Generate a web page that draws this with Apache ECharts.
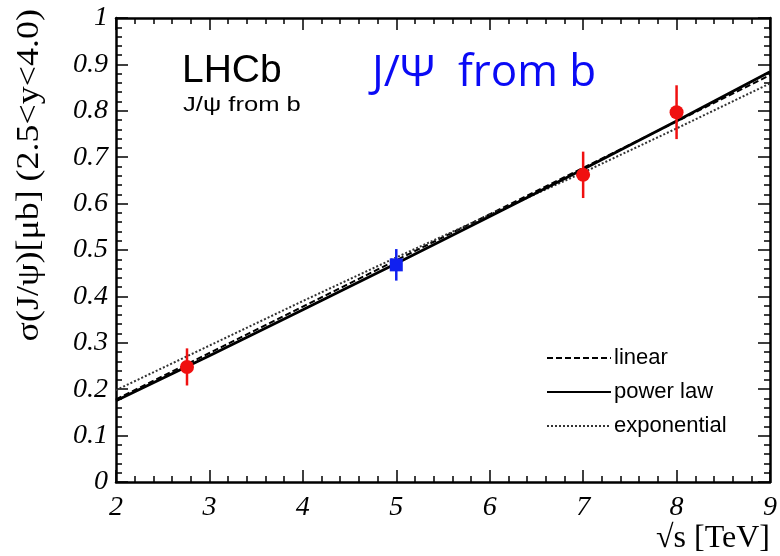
<!DOCTYPE html>
<html>
<head>
<meta charset="utf-8">
<script src="https://cdn.jsdelivr.net/npm/echarts@6/dist/echarts.min.js"></script>
<style>
  html, body { margin: 0; padding: 0; background: #fff; }
  #chart { width: 780px; height: 556px; }
</style>
</head>
<body>
<div id="chart"></div>
<script>
// Centre-of-mass energies (TeV) and measured cross-sections (μb) with uncertainties
const ppEnergies = [2.76, 7.0, 8.0];
const ppSigma = [0.248, 0.662, 0.797];
const ppError = [0.040, 0.050, 0.058];

const interpEnergy = [5.0];
const interpSigma = [0.468];
const interpError = [0.034];

// Fit curves sampled at integer energies
const fitEnergies = [2, 3, 4, 5, 6, 7, 8, 9];
const linearFit = [0.178, 0.278, 0.378, 0.478, 0.577, 0.677, 0.777, 0.877];
const powerLawFit = [0.175, 0.272, 0.371, 0.471, 0.572, 0.674, 0.778, 0.884];
const exponentialFit = [0.198, 0.294, 0.390, 0.484, 0.576, 0.667, 0.762, 0.859];

const seriesNames = ['linear', 'power law', 'exponential'];

const zip = (xs, ys) => xs.map((x, i) => [x, ys[i]]);
const zip3 = (xs, ys, es) => xs.map((x, i) => [x, ys[i], es[i]]);

function errorBar(color) {
  return function (params, api) {
    const x = api.value(0), y = api.value(1), e = api.value(2);
    const hi = api.coord([x, y + e]);
    const lo = api.coord([x, y - e]);
    return {
      type: 'line',
      shape: { x1: hi[0], y1: hi[1], x2: lo[0], y2: lo[1] },
      style: { stroke: color, lineWidth: 2.5 }
    };
  };
}

const tickFont = { fontFamily: 'Liberation Serif', fontStyle: 'italic', fontSize: 28, color: '#000' };

const frameAxis = {
  axisLine: { show: true, onZero: false, lineStyle: { color: '#000', width: 2.5 } },
  axisTick: { show: true, inside: true, length: 12, lineStyle: { color: '#000', width: 1.5 } },
  minorTick: { show: true, splitNumber: 5, length: 6, lineStyle: { color: '#000', width: 1.5 } },
  splitLine: { show: false }
};

const chart = echarts.init(document.getElementById('chart'), null, { renderer: 'canvas' });

chart.setOption({
  animation: false,
  backgroundColor: '#fff',
  grid: { left: 116, right: 10, top: 18, bottom: 74 },
  xAxis: [
    Object.assign({ type: 'value', min: 2, max: 9, interval: 1, position: 'bottom',
      axisLabel: Object.assign({ margin: 12 }, tickFont) }, frameAxis),
    Object.assign({ type: 'value', min: 2, max: 9, interval: 1, position: 'top',
      axisLabel: { show: false } }, frameAxis)
  ],
  yAxis: [
    Object.assign({ type: 'value', min: 0, max: 1, interval: 0.1, position: 'left',
      axisLabel: Object.assign({ margin: 8 }, tickFont) }, frameAxis),
    Object.assign({ type: 'value', min: 0, max: 1, interval: 0.1, position: 'right',
      axisLabel: { show: false } }, frameAxis)
  ],
  legend: {
    orient: 'vertical',
    left: 541,
    top: 342,
    itemWidth: 64,
    itemHeight: 14,
    itemGap: 12,
    selectedMode: false,
    data: seriesNames,
    itemStyle: { opacity: 0 },
    textStyle: { fontFamily: 'Liberation Sans', fontSize: 22, color: '#000', padding: [0, 0, 0, -2] }
  },
  graphic: [
    { type: 'text', left: 182, top: 52,
      style: { text: 'LHCb', font: '39px "Liberation Sans"', fill: '#000' } },
    { type: 'text', x: 183, y: 95, scaleX: 1.28,
      style: { text: 'J/ψ from b', font: '20px "Liberation Sans"', fill: '#000' } },
    { type: 'text', left: 372, top: 51,
      style: { text: 'J/Ψ  from b', font: '44px "Open Sans"', fill: '#0a0af5' } },
    { type: 'text', x: 30, y: 9, rotation: Math.PI / 2, scaleX: 1.16,
      style: { text: 'σ(J/ψ)[μb] (2.5<y<4.0)', font: '31px "Liberation Serif"', fill: '#000',
        align: 'right', verticalAlign: 'middle' } },
    { type: 'text', x: 770, y: 539,
      style: { text: '√s [TeV]', font: '32px "Liberation Serif"', fill: '#000',
        align: 'right', verticalAlign: 'middle' } }
  ],
  series: [
    { name: 'linear', type: 'line', data: zip(fitEnergies, linearFit), symbol: 'none',
      lineStyle: { color: '#000', width: 2, type: [6, 3] }, itemStyle: { color: '#000' }, z: 2 },
    { name: 'power law', type: 'line', data: zip(fitEnergies, powerLawFit), symbol: 'none',
      lineStyle: { color: '#000', width: 2.8, type: 'solid' }, itemStyle: { color: '#000' }, z: 3 },
    { name: 'exponential', type: 'line', data: zip(fitEnergies, exponentialFit), symbol: 'none',
      lineStyle: { color: '#333', width: 2, type: [2, 2] }, itemStyle: { color: '#333' }, z: 2 },
    { name: 'pp error', type: 'custom', data: zip3(ppEnergies, ppSigma, ppError),
      renderItem: errorBar('#f01010'), z: 5 },
    { name: 'pp', type: 'scatter', data: zip(ppEnergies, ppSigma), symbol: 'circle', symbolSize: 14,
      itemStyle: { color: '#f01010', opacity: 1 }, z: 6 },
    { name: 'interp error', type: 'custom', data: zip3(interpEnergy, interpSigma, interpError),
      renderItem: errorBar('#1020f0'), z: 5 },
    { name: 'interp', type: 'scatter', data: zip(interpEnergy, interpSigma), symbol: 'rect', symbolSize: 13,
      itemStyle: { color: '#1020f0', opacity: 1 }, z: 6 }
  ]
});
</script>
</body>
</html>
